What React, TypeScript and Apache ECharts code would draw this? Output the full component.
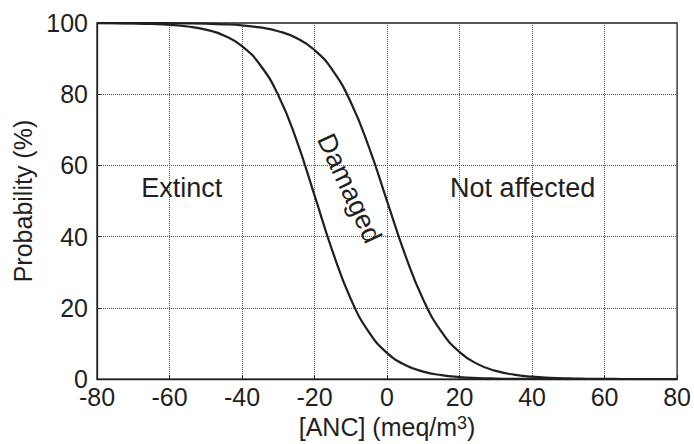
import React, { useEffect, useRef } from "react";
import * as echarts from "echarts";

const anc = [-80, -75, -70, -65, -60, -55, -50, -45, -40, -35, -30, -25, -20, -15, -10, -5, 0, 5, 10, 15, 20, 25, 30, 35, 40, 45, 50, 55, 60, 65, 70, 75, 80];
const extinctBoundary = [99.96, 99.93, 99.86, 99.73, 99.49, 99.02, 98.14, 96.5, 93.5, 88.2, 79.7, 67.2, 51.6, 35.8, 22.5, 13.2, 7.35, 3.97, 2.11, 1.11, 0.58, 0.31, 0.16, 0.08, 0.04, 0.02, 0.01, 0.01, 0, 0, 0, 0, 0];
const affectedBoundary = [100, 99.99, 99.98, 99.97, 99.94, 99.9, 99.81, 99.64, 99.33, 98.76, 97.7, 95.79, 92.41, 86.7, 77.73, 65.13, 50, 34.87, 22.27, 13.3, 7.59, 4.21, 2.3, 1.24, 0.67, 0.36, 0.19, 0.1, 0.06, 0.03, 0.02, 0.01, 0];

const regionLabels = ["Extinct", "Damaged", "Not affected"];
const regionX = [-56.6, -10.4, 37.4];
const regionY = [53.6, 53.6, 53.6];
const regionRotateDeg = [0, -65, 0];

const xTitle = "[ANC] (meq/m{sup|3})";
const yTitle = "Probability (%)";

const INK = "#231f20";
const FONT = "'Liberation Sans', Arial, Helvetica, sans-serif";

export default function App() {
  const ref = useRef<HTMLDivElement>(null);
  useEffect(() => {
    document.body.style.margin = "0";
    const chart = echarts.init(ref.current!, null, { renderer: "svg" });
    const toPairs = (ys: number[]) => anc.map((x, i) => [x, ys[i]]);
    const lineSeries = (name: string, ys: number[]) => ({
      name,
      type: "line",
      data: toPairs(ys),
      smooth: true,
      showSymbol: false,
      lineStyle: { color: INK, width: 2.2 },
      z: 5,
    });
    chart.setOption({
      animation: false,
      textStyle: { fontFamily: FONT },
      grid: {
        left: 97,
        right: 15,
        top: 23,
        bottom: 61,
        show: true,
        borderColor: INK,
        borderWidth: 1.3,
        backgroundColor: "transparent",
      },
      xAxis: {
        type: "value",
        min: -80,
        max: 80,
        interval: 20,
        name: xTitle,
        nameLocation: "middle",
        nameGap: 27,
        nameTextStyle: {
          color: INK,
          fontSize: 25,
          fontFamily: FONT,
          rich: {
            sup: { fontSize: 18, color: INK, fontFamily: FONT, verticalAlign: "top", lineHeight: 18 },
          },
        },
        axisLine: { show: true, onZero: false, lineStyle: { color: INK, width: 1.3 } },
        axisTick: { show: true, inside: true, length: 4, lineStyle: { color: INK } },
        axisLabel: { color: INK, fontSize: 25, margin: 5, fontFamily: FONT },
        splitLine: { show: true, lineStyle: { color: "#555", type: [1, 1], width: 1 } },
      },
      yAxis: {
        type: "value",
        min: 0,
        max: 100,
        interval: 20,
        name: yTitle,
        nameLocation: "middle",
        nameGap: 60,
        nameTextStyle: { color: INK, fontSize: 25, fontFamily: FONT },
        axisLine: { show: true, onZero: false, lineStyle: { color: INK, width: 1.3 } },
        axisTick: { show: true, inside: true, length: 4, lineStyle: { color: INK } },
        axisLabel: { color: INK, fontSize: 25, margin: 9, fontFamily: FONT },
        splitLine: { show: true, lineStyle: { color: "#555", type: [1, 1], width: 1 } },
      },
      series: [lineSeries("Extinct limit", extinctBoundary), lineSeries("Damage limit", affectedBoundary)],
    });
    const graphics = regionLabels.map((t, i) => {
      const [px, py] = chart.convertToPixel({ gridIndex: 0 }, [regionX[i], regionY[i]]) as number[];
      return {
        type: "text",
        x: px,
        y: py,
        rotation: (regionRotateDeg[i] * Math.PI) / 180,
        z: 10,
        style: {
          text: t,
          fill: INK,
          font: `27px ${FONT}`,
          textAlign: "center",
          textVerticalAlign: "middle",
        },
      };
    });
    chart.setOption({ graphic: graphics });
    return () => chart.dispose();
  }, []);
  return <div ref={ref} style={{ width: 694, height: 444 }} />;
}
